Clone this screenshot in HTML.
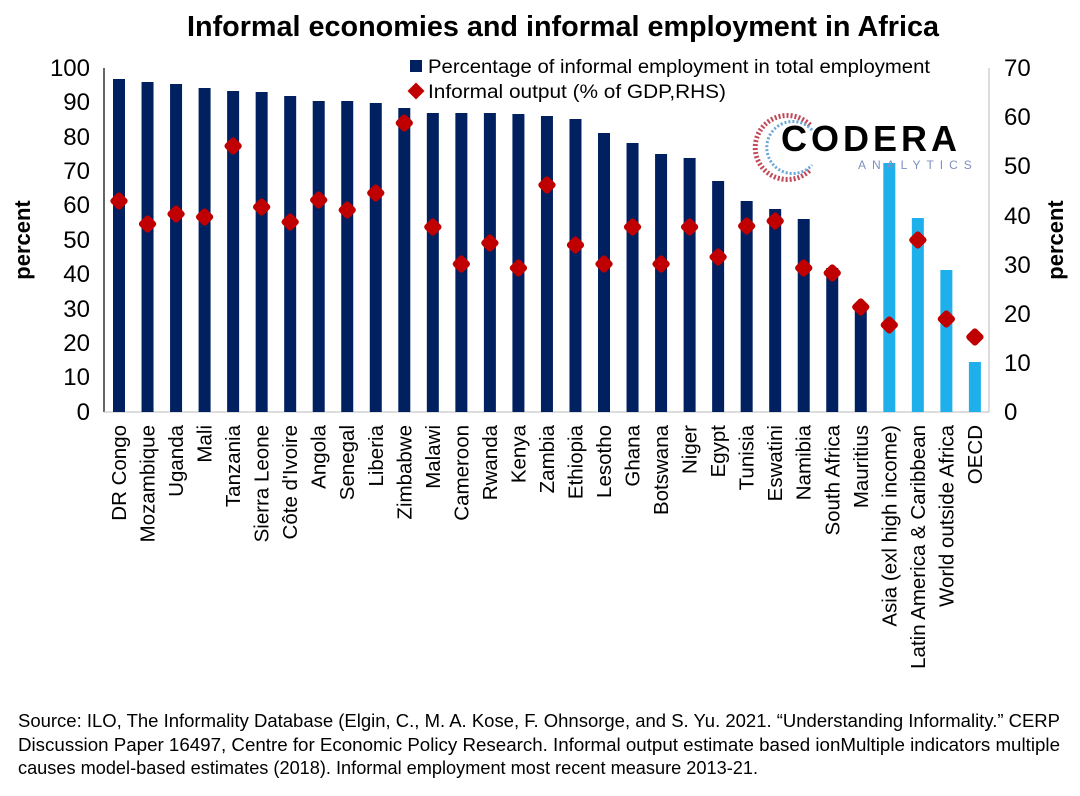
<!DOCTYPE html>
<html><head><meta charset="utf-8"><style>
body{margin:0;background:#fff;width:1080px;height:791px;overflow:hidden;font-family:"Liberation Sans",sans-serif}
</style></head><body>
<svg width="1080" height="791" xmlns="http://www.w3.org/2000/svg" font-family="Liberation Sans, sans-serif">
<text x="563" y="36" text-anchor="middle" font-size="28.5" font-weight="bold" textLength="752" lengthAdjust="spacingAndGlyphs">Informal economies and informal employment in Africa</text>
<line x1="104" y1="68" x2="104" y2="412" stroke="#333" stroke-width="1.5"/>
<line x1="989" y1="68" x2="989" y2="412" stroke="#bbb" stroke-width="1"/>
<line x1="104" y1="412" x2="989" y2="412" stroke="#bbb" stroke-width="1"/>
<g font-size="24" text-anchor="end">
<text x="90" y="420">0</text><text x="90" y="385">10</text><text x="90" y="351">20</text><text x="90" y="317">30</text><text x="90" y="282">40</text><text x="90" y="248">50</text><text x="90" y="213">60</text><text x="90" y="179">70</text><text x="90" y="145">80</text><text x="90" y="110">90</text><text x="90" y="76">100</text>
</g>
<g font-size="24" text-anchor="start">
<text x="1004" y="420">0</text><text x="1004" y="371">10</text><text x="1004" y="322">20</text><text x="1004" y="273">30</text><text x="1004" y="224">40</text><text x="1004" y="174">50</text><text x="1004" y="125">60</text><text x="1004" y="76">70</text>
</g>
<text transform="translate(30,240) rotate(-90)" text-anchor="middle" font-size="22" font-weight="bold">percent</text>
<text transform="translate(1063,240) rotate(-90)" text-anchor="middle" font-size="22" font-weight="bold">percent</text>
<g id="bars"></g>
<g id="dots"></g>
<g id="labels" font-size="20.5"></g>
<rect x="410" y="60" width="12" height="12" fill="#002060"/>
<text x="428" y="73" font-size="19" textLength="502" lengthAdjust="spacingAndGlyphs">Percentage of informal employment in total employment</text>
<rect x="410" y="85" width="12" height="12" fill="#c00000" transform="rotate(45 416 91)"/>
<text x="428" y="98" font-size="19" textLength="298" lengthAdjust="spacingAndGlyphs">Informal output (% of GDP,RHS)</text>
<path d="M810 125 A32 32 0 1 0 810 170" fill="none" stroke="#c04a5a" stroke-width="5" stroke-dasharray="2 2"/>
<path d="M812 130 A26 26 0 1 0 812 165" fill="none" stroke="#6aa6d8" stroke-width="3" stroke-dasharray="2 2"/>
<text x="781" y="151" font-size="36" font-weight="bold" letter-spacing="4">CODERA</text>
<text x="858" y="169" font-size="12" fill="#7d8fc0" letter-spacing="6">ANALYTICS</text>
<g font-size="18" fill="#000">
<text x="18" y="727" textLength="1042" lengthAdjust="spacingAndGlyphs">Source: ILO, The Informality Database (Elgin, C., M. A. Kose, F. Ohnsorge, and S. Yu. 2021. “Understanding Informality.” CERP</text>
<text x="18" y="751" textLength="1042" lengthAdjust="spacingAndGlyphs">Discussion Paper 16497, Centre for Economic Policy Research. Informal output estimate based ionMultiple indicators multiple</text>
<text x="18" y="774" textLength="740" lengthAdjust="spacingAndGlyphs">causes model-based estimates (2018). Informal employment most recent measure 2013-21.</text>
</g>
</svg>
<script>
var names=["DR Congo","Mozambique","Uganda","Mali","Tanzania","Sierra Leone","Côte d'Ivoire","Angola","Senegal","Liberia","Zimbabwe","Malawi","Cameroon","Rwanda","Kenya","Zambia","Ethiopia","Lesotho","Ghana","Botswana","Niger","Egypt","Tunisia","Eswatini","Namibia","South Africa","Mauritius","Asia (exl high income)","Latin America & Caribbean","World outside Africa","OECD"];
var tops=[79,82,84,88,91,92,96,101,101,103,108,113,113,113,114,116,119,133,143,154,158,181,201,209,219,268,306,163,218,270,362];
var dy=[201,224,214,217,146,207,222,200,210,193,123,227,264,243,268,185,245,264,227,264,227,257,226,221,268,273,307,325,240,319,337];
var ns="http://www.w3.org/2000/svg";
function el(t,a,p){var e=document.createElementNS(ns,t);for(var k in a)e.setAttribute(k,a[k]);document.getElementById(p).appendChild(e);return e;}
for(var i=0;i<31;i++){var cx=119+i*28.53;
el("rect",{x:cx-6,y:tops[i],width:12,height:412-tops[i],fill:i>=27?"#1fb0ec":"#002060"},"bars");
el("rect",{x:cx-7,y:dy[i]-7,width:14,height:14,rx:3,fill:"#c00000",transform:"rotate(45 "+cx+" "+dy[i]+")"},"dots");
var t=el("text",{transform:"translate("+(cx+7)+",425) rotate(-90)","text-anchor":"end"},"labels");t.textContent=names[i];}
</script>
</body></html>
